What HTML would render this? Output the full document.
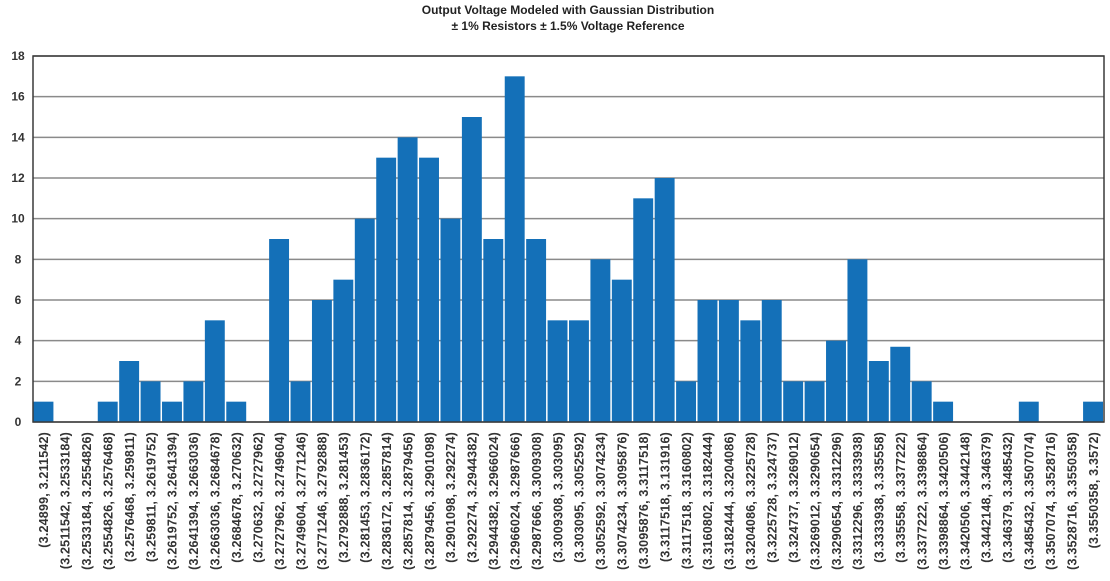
<!DOCTYPE html>
<html><head><meta charset="utf-8"><style>
html,body{margin:0;padding:0;background:#fff;}
svg{display:block;font-family:"Liberation Sans",sans-serif;}
</style></head><body>
<svg id="chart" width="1110" height="581">
<text x="568" y="14" text-anchor="middle" font-size="12" font-weight="bold" fill="#222">Output Voltage Modeled with Gaussian Distribution</text>
<text x="568" y="30" text-anchor="middle" font-size="12" font-weight="bold" fill="#222">± 1% Resistors ± 1.5% Voltage Reference</text>
<g id="grid"></g><g id="bars"></g><g id="yt"></g><g id="xt"></g>
<rect x="33" y="56" width="1071" height="366" fill="none" stroke="#3a3a3a" stroke-width="1.5"/>
</svg>
<script>
const categories = ["(3.24899, 3.211542)","(3.2511542, 3.2533184)","(3.2533184, 3.2554826)","(3.2554826, 3.2576468)","(3.2576468, 3.259811)","(3.259811, 3.2619752)","(3.2619752, 3.2641394)","(3.2641394, 3.2663036)","(3.2663036, 3.2684678)","(3.2684678, 3.270632)","(3.270632, 3.2727962)","(3.2727962, 3.2749604)","(3.2749604, 3.2771246)","(3.2771246, 3.2792888)","(3.2792888, 3.281453)","(3.281453, 3.2836172)","(3.2836172, 3.2857814)","(3.2857814, 3.2879456)","(3.2879456, 3.2901098)","(3.2901098, 3.292274)","(3.292274, 3.2944382)","(3.2944382, 3.2966024)","(3.2966024, 3.2987666)","(3.2987666, 3.3009308)","(3.3009308, 3.303095)","(3.303095, 3.3052592)","(3.3052592, 3.3074234)","(3.3074234, 3.3095876)","(3.3095876, 3.3117518)","(3.3117518, 3.131916)","(3.3117518, 3.3160802)","(3.3160802, 3.3182444)","(3.3182444, 3.3204086)","(3.3204086, 3.3225728)","(3.3225728, 3.324737)","(3.324737, 3.3269012)","(3.3269012, 3.3290654)","(3.3290654, 3.3312296)","(3.3312296, 3.3333938)","(3.3333938, 3.335558)","(3.335558, 3.3377222)","(3.3377222, 3.3398864)","(3.3398864, 3.3420506)","(3.3420506, 3.3442148)","(3.3442148, 3.346379)","(3.346379, 3.3485432)","(3.3485432, 3.3507074)","(3.3507074, 3.3528716)","(3.3528716, 3.3550358)","(3.3550358, 3.3572)"];
const counts = [1,0,0,1,3,2,1,2,5,1,0,9,2,6,7,10,13,14,13,10,15,9,17,9,5,5,8,7,11,12,2,6,6,5,6,2,2,4,8,3,3.7,2,1,0,0,0,1,0,0,1];
const yTicks = [0,2,4,6,8,10,12,14,16,18];
const NS="http://www.w3.org/2000/svg";
const L=33,R=1104,T=56,B=422,YMAX=18;
const pitch=(R-L)/categories.length;
const y=v=>B-(v/YMAX)*(B-T);
const x=i=>L+i*pitch;
function mk(tag,p,attrs){const e=document.createElementNS(NS,tag);for(const k in attrs)e.setAttribute(k,attrs[k]);p.appendChild(e);return e;}
const grid=document.getElementById('grid'),yt=document.getElementById('yt'),bars=document.getElementById('bars'),xt=document.getElementById('xt');
yTicks.forEach(t=>{
  const g=mk('line',grid,{x1:L,x2:R,y1:y(t),y2:y(t),stroke:'#8a8a8a','stroke-width':1.5});
  
  
  const tx=mk('text',yt,{x:18,y:y(t)+4,'text-anchor':'middle','font-size':12,'font-weight':'bold',fill:'#333'});
  tx.textContent=t;
  
  
});
counts.forEach((v,i)=>{
  if(v>0){
    const r=mk('rect',bars,{x:x(i)+0.5,y:y(v),width:pitch-1.5,height:B-y(v),fill:'#1470b8'});
    
    
  }
  const cx=x(i)+pitch/2+4.5;
  const t=mk('text',xt,{x:cx,y:432,'text-anchor':'end','font-size':12.5,'letter-spacing':0.2,'font-weight':'bold',fill:'#333',transform:`rotate(-90 ${cx} 432)`});
  t.textContent=categories[i];
  
  
});
</script>
</body></html>
